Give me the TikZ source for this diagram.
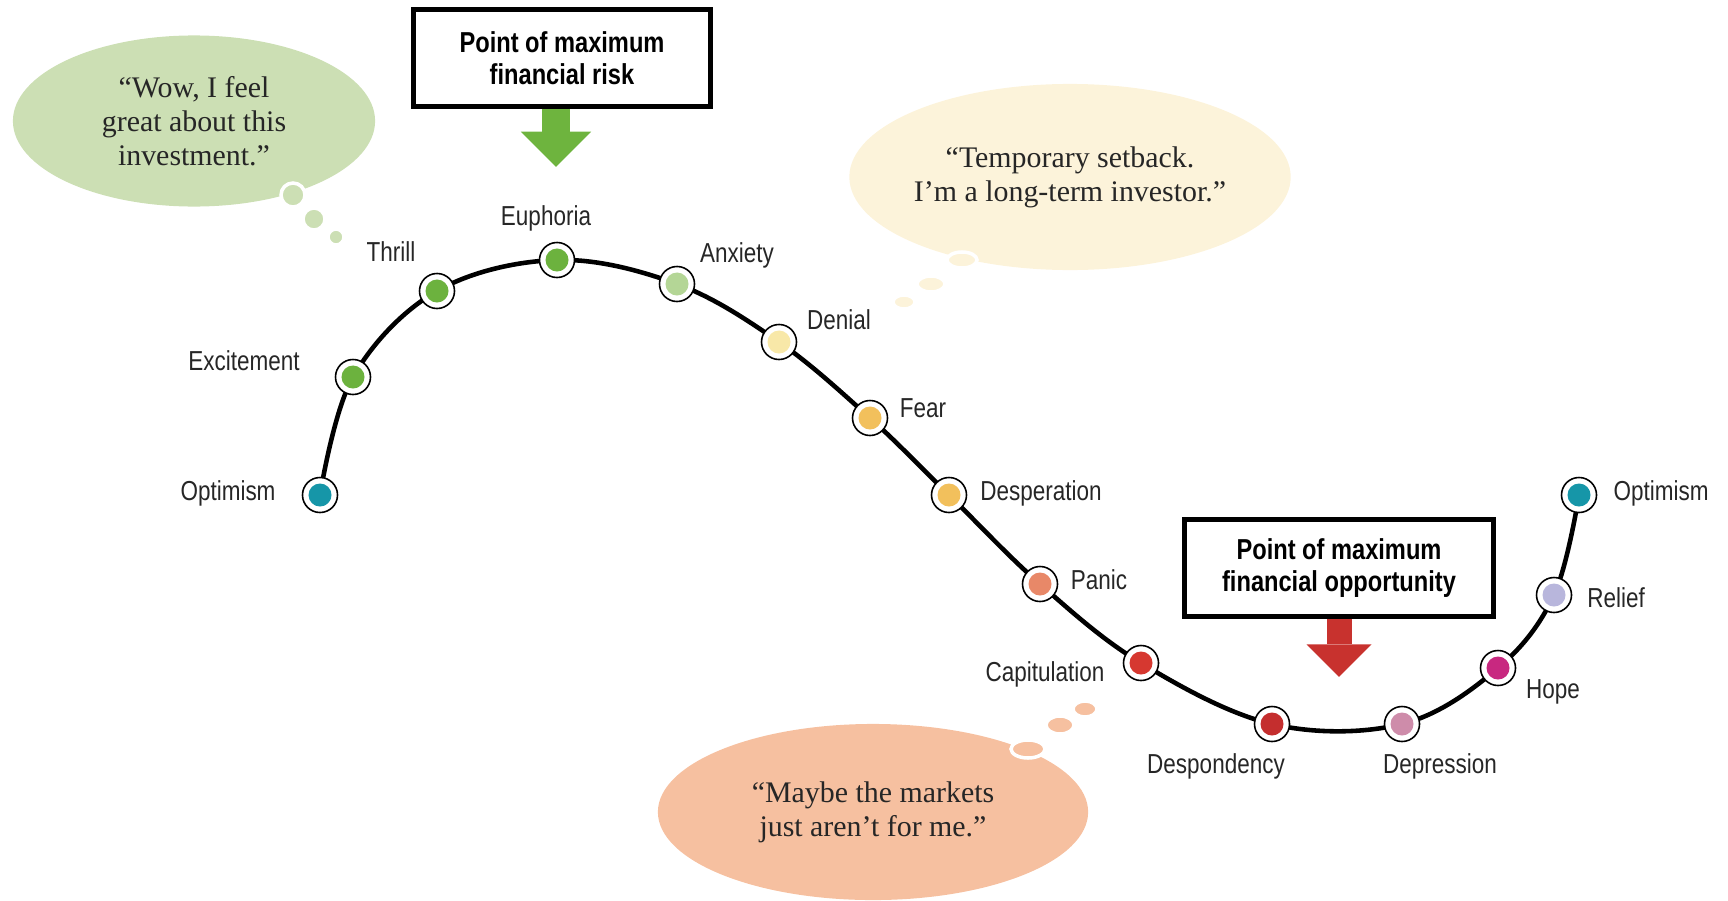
\documentclass[tikz,border=0pt]{standalone}
\usepackage{fontspec}
\setmainfont{Liberation Serif}
\newfontfamily\narrowfont[FakeStretch=0.82]{Liberation Sans}
\usetikzlibrary{shapes,arrows.meta,positioning,calc,backgrounds}

\definecolor{moodteal}{RGB}{22,150,168}
\definecolor{moodgreen}{RGB}{108,178,62}
\definecolor{moodsage}{RGB}{180,214,150}
\definecolor{moodcream}{RGB}{248,232,168}
\definecolor{moodgold}{RGB}{242,192,92}
\definecolor{moodsalmon}{RGB}{232,136,104}
\definecolor{moodred}{RGB}{214,56,48}
\definecolor{mooddarkred}{RGB}{196,46,46}
\definecolor{moodmauve}{RGB}{206,140,170}
\definecolor{moodmagenta}{RGB}{200,40,128}
\definecolor{moodlilac}{RGB}{184,182,220}
\definecolor{wowgreen}{RGB}{204,223,180}
\definecolor{setbackcream}{RGB}{252,243,218}
\definecolor{maybepeach}{RGB}{246,192,160}
\definecolor{riskgreen}{RGB}{110,180,62}
\definecolor{oppred}{RGB}{200,50,46}

\begin{document}
\begin{tikzpicture}[x=0.01cm, y=-0.01cm,
    mood/.style={circle, draw=black, line width=0.45pt, fill=white,
                 minimum size=0.35cm, inner sep=0pt,
                 path picture={\fill[#1] (path picture bounding box.center) circle (0.115cm);}},
    moodlbl/.style={font=\narrowfont\fontsize{7.8}{9}\selectfont, text=black!85, inner sep=0pt},
    callout/.style={rectangle, draw=black, line width=1.3pt, fill=white, align=center,
                    minimum height=0.97cm,
                    font=\narrowfont\bfseries\fontsize{8.2}{9.1}\selectfont},
    bubble/.style={ellipse, align=center, inner sep=0pt, text=black!85,
                   font=\fontsize{8.5}{9.7}\selectfont},
    puff/.style={draw=white, line width=1pt},
    curve/.style={line width=1.3pt, black},
    pointer/.style={line width=#1, -{Triangle[width=2.6*#1, length=1.3*#1, line width=0pt]}}]

\useasboundingbox (0,0) rectangle (1728,900);

% Thought bubbles
\node[bubble, fill=wowgreen, minimum width=3.62cm, minimum height=1.71cm] (wow) at (194,121)
    {“Wow, I feel\\great about this\\investment.”};
\filldraw[puff, fill=wowgreen] (293,195) circle (12);
\filldraw[puff, fill=wowgreen] (314,219) circle (11);
\filldraw[puff, fill=wowgreen] (336,237) circle (8);

\node[bubble, fill=setbackcream, minimum width=4.27cm, minimum height=1.86cm] (setback) at (1070,177)
    {“Temporary setback.\\I’m a long-term investor.”};
\filldraw[puff, fill=setbackcream] (962,260) ellipse [x radius=15, y radius=8];
\filldraw[puff, fill=setbackcream] (931,284) ellipse [x radius=14, y radius=8];
\filldraw[puff, fill=setbackcream] (904,302) ellipse [x radius=11, y radius=7];

\node[bubble, fill=maybepeach, minimum width=4.30cm, minimum height=1.76cm] (maybe) at (873,812)
    {“Maybe the markets\\just aren’t for me.”};
\filldraw[puff, fill=maybepeach] (1028,749) ellipse [x radius=17, y radius=9];
\filldraw[puff, fill=maybepeach] (1060,725) ellipse [x radius=14, y radius=9];
\filldraw[puff, fill=maybepeach] (1085,709) ellipse [x radius=12, y radius=8];

% Emotions along the cycle
\node[mood=moodteal] (opt1) at (320,495) {};
\node[mood=moodgreen] (exc) at (353,377) {};
\node[mood=moodgreen] (thr) at (437,291) {};
\node[mood=moodgreen] (eup) at (557,260) {};
\node[mood=moodsage] (anx) at (677,284) {};
\node[mood=moodcream] (den) at (779,342) {};
\node[mood=moodgold] (fear) at (870,418) {};
\node[mood=moodgold] (desp) at (949,495) {};
\node[mood=moodsalmon] (pan) at (1040,584) {};
\node[mood=moodred] (cap) at (1141,663) {};
\node[mood=mooddarkred] (dspd) at (1272,724) {};
\node[mood=moodmauve] (dprs) at (1402,724) {};
\node[mood=moodmagenta] (hope) at (1498,668) {};
\node[mood=moodlilac] (rel) at (1554,595) {};
\node[mood=moodteal] (opt2) at (1579,495) {};

\begin{scope}[on background layer]
\draw[curve] plot[smooth, tension=0.6] coordinates {(opt1) (exc) (thr) (eup) (anx) (den) (fear)
    (desp) (pan) (cap) (dspd) (dprs) (hope) (rel) (opt2)};
\end{scope}

% Labels
\node[moodlbl] at (228,493) {Optimism};
\node[moodlbl] at (244,361) {Excitement};
\node[moodlbl] at (391,252) {Thrill};
\node[moodlbl] at (546,218) {Euphoria};
\node[moodlbl] at (737,255) {Anxiety};
\node[moodlbl] at (839,320) {Denial};
\node[moodlbl] at (923,408) {Fear};
\node[moodlbl] at (1041,493) {Desperation};
\node[moodlbl] at (1099,580) {Panic};
\node[moodlbl] at (1045,674) {Capitulation};
\node[moodlbl] at (1216,766) {Despondency};
\node[moodlbl] at (1440,766) {Depression};
\node[moodlbl] at (1553,692) {Hope};
\node[moodlbl] at (1616,598) {Relief};
\node[moodlbl] at (1661,493) {Optimism};

% Risk and opportunity
\node[callout, minimum width=2.97cm] (risk) at (562,58) {Point of maximum\\financial risk};
\node[callout, minimum width=3.09cm] (opp) at (1339,568) {Point of maximum\\financial opportunity};

\draw[pointer=0.27cm, riskgreen] ([xshift=-0.06cm]risk.south) -- ++(0,58);
\draw[pointer=0.25cm, oppred] (opp.south) -- ++(0,58);
\end{tikzpicture}
\end{document}
